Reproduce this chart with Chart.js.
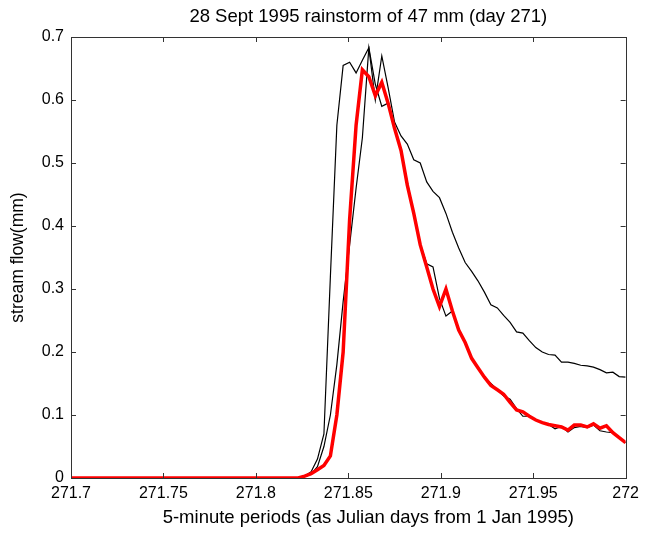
<!DOCTYPE html>
<html>
<head>
<meta charset="utf-8">
<script src="https://cdn.jsdelivr.net/npm/chart.js@4.4.1/dist/chart.umd.min.js"></script>
<style>
  body { margin: 0; background: #fff; }
  #wrap { width: 645px; height: 534px; position: relative; }
</style>
</head>
<body>
<div id="wrap"><canvas id="chart"></canvas></div>
<script>
// 5-minute periods as Julian days
const days = [
    271.7, 271.7049, 271.7083, 271.7118, 271.7153, 271.7188, 271.7222, 271.7257, 271.7292, 271.7326,
    271.7361, 271.7396, 271.7431, 271.7465, 271.75, 271.7535, 271.7569, 271.7604, 271.7639, 271.7674,
    271.7708, 271.7743, 271.7778, 271.7813, 271.7847, 271.7882, 271.7917, 271.7951, 271.7986, 271.8021,
    271.8056, 271.809, 271.8125, 271.816, 271.8194, 271.8229, 271.8264, 271.8299, 271.8333, 271.8368,
    271.8403, 271.8438, 271.8472, 271.8507, 271.8542, 271.8576, 271.8611, 271.8646, 271.8681, 271.8715,
    271.875, 271.8785, 271.8819, 271.8854, 271.8889, 271.8924, 271.8958, 271.8993, 271.9028, 271.9063,
    271.9097, 271.9132, 271.9167, 271.9201, 271.9236, 271.9271, 271.9306, 271.934, 271.9375, 271.941,
    271.9444, 271.9479, 271.9514, 271.9549, 271.9583, 271.9618, 271.9653, 271.9688, 271.9722, 271.9757,
    271.9792, 271.9826, 271.9861, 271.9896, 271.9931, 271.9965, 272
];

// black line with the early rise and the high tail
const flowA = [
    0, 0, 0, 0, 0, 0, 0, 0, 0, 0,
    0, 0, 0, 0, 0, 0, 0, 0, 0, 0,
    0, 0, 0, 0, 0, 0, 0, 0, 0, 0,
    0, 0, 0, 0, 0, 0, 0.003, 0.01, 0.03, 0.07,
    0.32, 0.56, 0.655, 0.66, 0.643, 0.663, 0.683, 0.60, 0.67, 0.62,
    0.565, 0.543, 0.53, 0.505, 0.50, 0.47, 0.455, 0.445, 0.42, 0.39,
    0.365, 0.342, 0.328, 0.313, 0.295, 0.275, 0.27, 0.258, 0.247, 0.232,
    0.23, 0.218, 0.207, 0.20, 0.196, 0.195, 0.184, 0.184, 0.182, 0.179,
    0.178, 0.176, 0.172, 0.167, 0.168, 0.161, 0.16
];

// black line that follows the red one
const flowB = [
    0, 0, 0, 0, 0, 0, 0, 0, 0, 0,
    0, 0, 0, 0, 0, 0, 0, 0, 0, 0,
    0, 0, 0, 0, 0, 0, 0, 0, 0, 0,
    0, 0, 0, 0, 0, 0, 0.002, 0.006, 0.018, 0.05,
    0.10, 0.18, 0.28, 0.37, 0.46, 0.54, 0.683, 0.625, 0.59, 0.595,
    0.555, 0.52, 0.47, 0.42, 0.372, 0.34, 0.335, 0.285, 0.257, 0.265,
    0.235, 0.215, 0.19, 0.175, 0.16, 0.15, 0.14, 0.13, 0.125, 0.11,
    0.098, 0.098, 0.092, 0.088, 0.085, 0.078, 0.082, 0.073, 0.08, 0.082,
    0.08, 0.084, 0.075, 0.073, 0.072, 0.064, 0.056
];

// red (thick) line
const flowRed = [
    0, 0, 0, 0, 0, 0, 0, 0, 0, 0,
    0, 0, 0, 0, 0, 0, 0, 0, 0, 0,
    0, 0, 0, 0, 0, 0, 0, 0, 0, 0,
    0, 0, 0, 0, 0, 0, 0.003, 0.007, 0.013, 0.02,
    0.035, 0.10, 0.20, 0.41, 0.56, 0.648, 0.637, 0.607, 0.628, 0.595,
    0.555, 0.52, 0.465, 0.42, 0.37, 0.335, 0.30, 0.272, 0.30, 0.265,
    0.235, 0.215, 0.19, 0.175, 0.16, 0.147, 0.14, 0.133, 0.12, 0.108,
    0.105, 0.098, 0.092, 0.088, 0.085, 0.083, 0.081, 0.076, 0.084, 0.084,
    0.081, 0.086, 0.079, 0.083, 0.072, 0.064, 0.056
];

const xTicks = [271.7, 271.75, 271.8, 271.85, 271.9, 271.95, 272];
const yTicks = [0, 0.1, 0.2, 0.3, 0.4, 0.5, 0.6, 0.7];

const titleText = '28 Sept 1995 rainstorm of 47 mm (day 271)';
const xTitleText = '5-minute periods (as Julian days from 1 Jan 1995)';

function toPoints(values) {
    return values.map((v, i) => ({x: days[i], y: v}));
}

const FONT = "'Liberation Sans', Arial, sans-serif";
Chart.defaults.font.family = FONT;
Chart.defaults.color = '#000';

// matlab style box with inward ticks on all four sides
const boxPlugin = {
    id: 'box',
    afterDraw(chart) {
        const ctx = chart.ctx;
        const a = chart.chartArea;
        const xs = chart.scales.x, ys = chart.scales.y;
        const len = 5;
        ctx.save();
        ctx.strokeStyle = '#333';
        ctx.lineWidth = 1;
        ctx.strokeRect(Math.round(a.left) + 0.5, Math.round(a.top) + 0.5,
            Math.round(a.right - a.left), Math.round(a.bottom - a.top));
        ctx.beginPath();
        xTicks.forEach(v => {
            const px = Math.round(xs.getPixelForValue(v)) + 0.5;
            ctx.moveTo(px, a.bottom);
            ctx.lineTo(px, a.bottom - len);
            ctx.moveTo(px, a.top);
            ctx.lineTo(px, a.top + len);
        });
        yTicks.forEach(v => {
            const py = Math.round(ys.getPixelForValue(v)) + 0.5;
            ctx.moveTo(a.left, py);
            ctx.lineTo(a.left + len, py);
            ctx.moveTo(a.right, py);
            ctx.lineTo(a.right - len, py);
        });
        ctx.stroke();

        // title and x label sit a bit right of the axes centre in the original
        const cx = (a.left + a.right) / 2 + 20;
        ctx.fillStyle = '#000';
        ctx.font = '18.5px ' + FONT;
        ctx.textAlign = 'center';
        ctx.textBaseline = 'middle';
        ctx.fillText(titleText, cx, 17);
        ctx.fillText(xTitleText, cx, 518);
        ctx.restore();
    }
};

new Chart(document.getElementById('chart'), {
    type: 'line',
    data: {
        datasets: [
            {
                data: toPoints(flowRed),
                borderColor: '#ff0000',
                borderWidth: 3.5,
                pointRadius: 0,
                order: 0
            },
            {
                data: toPoints(flowA),
                borderColor: '#000',
                borderWidth: 1.2,
                pointRadius: 0,
                order: 1
            },
            {
                data: toPoints(flowB),
                borderColor: '#000',
                borderWidth: 1.2,
                pointRadius: 0,
                order: 2
            }
        ]
    },
    options: {
        responsive: true,
        maintainAspectRatio: false,
        animation: false,
        layout: {
            padding: {left: 0, right: 15, top: 37, bottom: 0}
        },
        plugins: {
            legend: {display: false},
            tooltip: {enabled: false},
            title: {display: false}
        },
        scales: {
            x: {
                type: 'linear',
                min: 271.7,
                max: 272,
                grid: {display: false, drawTicks: false},
                border: {display: false},
                afterBuildTicks: scale => {
                    scale.ticks = xTicks.map(v => ({value: v}));
                },
                afterFit: scale => {
                    scale.height = 56;
                },
                ticks: {
                    padding: 6,
                    maxRotation: 0,
                    font: {size: 16},
                    callback: v => String(Number(v.toFixed(2)))
                }
            },
            y: {
                min: 0,
                max: 0.7,
                grid: {display: false, drawTicks: false},
                border: {display: false},
                afterBuildTicks: scale => {
                    scale.ticks = yTicks.map(v => ({value: v}));
                },
                afterFit: scale => {
                    scale.width = 71;
                },
                ticks: {
                    padding: 7,
                    font: {size: 16},
                    callback: v => String(Number(v.toFixed(1)))
                },
                title: {
                    display: true,
                    text: 'stream flow(mm)',
                    font: {size: 17.5},
                    padding: {top: 8, bottom: 0}
                }
            }
        }
    },
    plugins: [boxPlugin]
});
</script>
</body>
</html>
